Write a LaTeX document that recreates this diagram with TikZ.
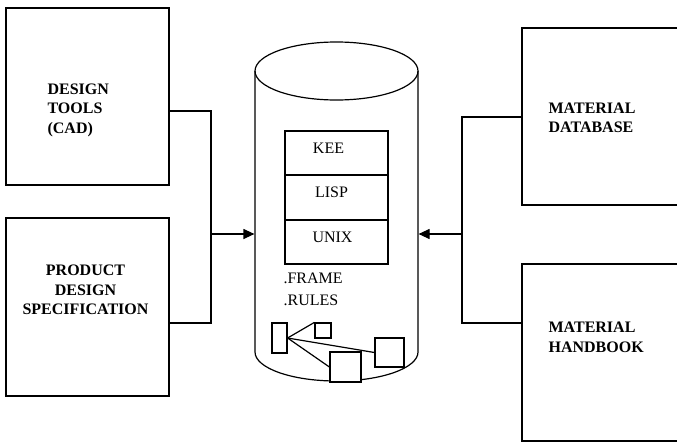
\documentclass[tikz,border=0pt]{standalone}
\usepackage{fontspec}
\setmainfont{Liberation Serif}
\usetikzlibrary{arrows.meta}

\begin{document}
\begin{tikzpicture}[x=1pt, y=-1pt, line width=1.2pt,
  box/.style={draw, rectangle, inner sep=0pt},
  small/.style={draw, rectangle, inner sep=0pt, fill=white},
  title/.style={font=\bfseries\fontsize{16}{19.5}\selectfont, inner sep=0pt},
  plain/.style={font=\fontsize{16}{22}\selectfont, inner sep=0pt},
  arr/.style={-{Triangle[length=11pt, width=10pt]}}
]
\clip (0,0) rectangle (677,442);

% outer source boxes
\node[box, minimum width=163pt, minimum height=177pt] (dt)  at (87.5,96.5) {};
\node[box, minimum width=163pt, minimum height=178pt] (pds) at (87.5,307) {};
\node[box, minimum width=198pt, minimum height=177pt] (md)  at (621,116.5) {};
\node[box, minimum width=198pt, minimum height=177pt] (mh)  at (621,352.5) {};

\node[title, anchor=west, align=left]   (dtt)  at (47,110)  {DESIGN\\TOOLS\\(CAD)};
\node[title, align=center]              (pdst) at (85.5,290) {PRODUCT\\DESIGN\\SPECIFICATION};
\node[title, anchor=west, align=left]   (mdt)  at (548,118) {MATERIAL\\DATABASE};
\node[title, anchor=west, align=left]   (mht)  at (548,337.5) {MATERIAL\\HANDBOOK};

% knowledge base cylinder
\node[inner sep=0pt, minimum width=163pt, minimum height=340pt] (cyl) at (336.5,212) {};
\draw (255,71) -- (255,352) arc[start angle=180, end angle=360, x radius=81.5pt, y radius=29pt] -- (418,71);
\draw (336.5,71) ellipse [x radius=81.5pt, y radius=29pt];

% software stack
\node[box, minimum width=103pt, minimum height=44pt,
      label={[plain, xshift=-8pt, yshift=5pt]center:KEE}]  (kee)  at (336.5,153) {};
\node[box, minimum width=103pt, minimum height=44.5pt,
      label={[plain, xshift=-5pt, yshift=5pt]center:LISP}] (lisp) at (336.5,197.5) {};
\node[box, minimum width=103pt, minimum height=44pt,
      label={[plain, xshift=-4pt, yshift=5pt]center:UNIX}] (unix) at (336.5,242) {};

\node[plain, anchor=north west, align=left] (fr) at (283,272) {.FRAME\\.RULES};

% frame network
\node[small, minimum width=15pt, minimum height=30pt] (ra) at (279.5,338) {};
\node[small, minimum width=16pt, minimum height=15pt] (rb) at (323,330.5) {};
\node[small, minimum width=31pt, minimum height=30pt] (rc) at (345.5,367) {};
\node[small, minimum width=29pt, minimum height=29pt] (rd) at (389.5,352.5) {};
\draw (ra.east) -- (rb.north west);
\draw (ra.east) -- (rc.west);
\draw (ra.east) -- (rd.west);

% connectors
\coordinate (ya) at (0,111);
\coordinate (yb) at (0,323);
\coordinate (ya2) at (0,117);
\coordinate (jl) at (211,234);
\coordinate (jr) at (462,234);
\draw (dt.east |- ya) -| (jl) |- (pds.east |- yb);
\draw[arr] (jl) -- (cyl.west |- jl);
\draw (md.west |- ya2) -| (jr) |- (mh.west |- yb);
\draw[arr] (jr) -- (cyl.east |- jr);
\end{tikzpicture}
\end{document}
